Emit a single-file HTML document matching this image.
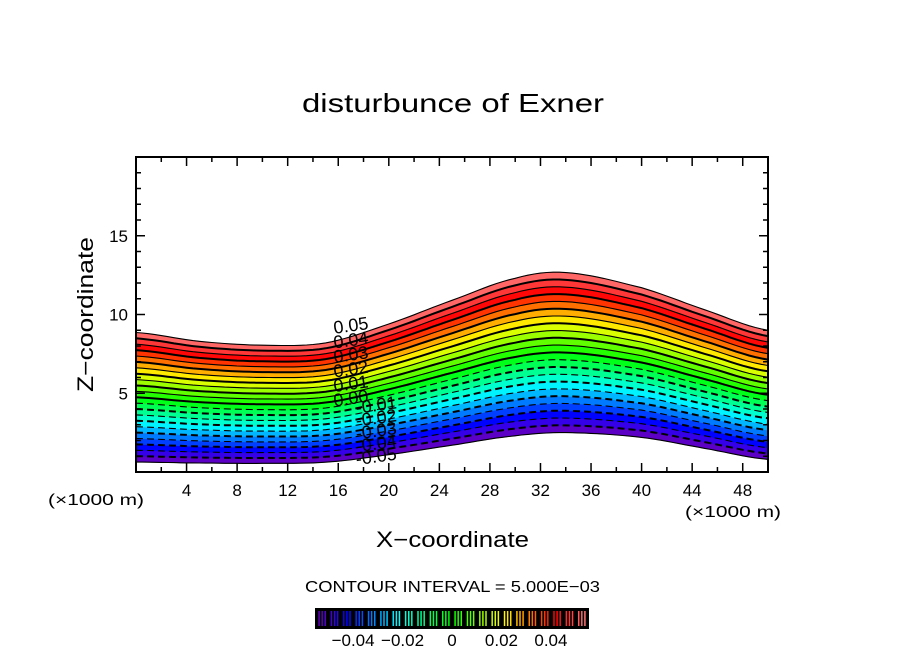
<!DOCTYPE html>
<html><head><meta charset="utf-8"><style>
body{margin:0;background:#fff}
svg text{font-family:"Liberation Sans",sans-serif;fill:#000}
</style></head><body>
<svg id="c" width="904" height="654" viewBox="0 0 904 654" xmlns="http://www.w3.org/2000/svg">
<text x="302" y="112" font-size="26" textLength="302" lengthAdjust="spacingAndGlyphs">disturbunce of Exner</text>
<g id="plot"></g>
<g id="axes"></g>
<text x="48" y="505" font-size="16" textLength="96" lengthAdjust="spacingAndGlyphs">(×1000 m)</text>
<text x="685" y="517" font-size="16" textLength="96" lengthAdjust="spacingAndGlyphs">(×1000 m)</text>
<text x="376" y="547" font-size="22" textLength="153" lengthAdjust="spacingAndGlyphs">X−coordinate</text>
<text transform="translate(93,392) rotate(-90)" font-size="22" textLength="155" lengthAdjust="spacingAndGlyphs">Z−coordinate</text>
<text x="305" y="592" font-size="16" textLength="295" lengthAdjust="spacingAndGlyphs">CONTOUR INTERVAL = 5.000E−03</text>
<g id="cbar"></g>
</svg>
<script>
const xKm=[0,5,10,15,20,25,30,34,40,45,50];
const topZ=[8.86,8.3,8.05,8.2,9.4,10.9,12.3,12.66,11.7,10.3,9.0];
const botZ=[0.63,0.57,0.55,0.62,1.1,1.7,2.3,2.5,2.2,1.5,0.8];
const levels=[];for(let i=-11;i<=11;i++)levels.push(i*0.005);
const xTicks=[4,8,12,16,20,24,28,32,36,40,44,48];
const yTicks=[5,10,15];
const cbTicks=[-0.04,-0.02,0,0.02,0.04];
const cbTickLabels=["−0.04","−0.02","0","0.02","0.04"];
const X0=136,X1=768,Y0=472,Y1=157,XMAX=50,YMAX=20,VMIN=-0.055,VMAX=0.055;
const sx=x=>X0+x/XMAX*(X1-X0), sy=z=>Y0-z/YMAX*(Y0-Y1);
const NS="http://www.w3.org/2000/svg";
function mk(t,a,p){const e=document.createElementNS(NS,t);for(const k in a)e.setAttribute(k,a[k]);p.appendChild(e);return e;}
function interp(arr,x){let i=0;while(i<xKm.length-2&&x>xKm[i+1])i++;
 const p0=arr[Math.max(i-1,0)],p1=arr[i],p2=arr[i+1],p3=arr[Math.min(i+2,arr.length-1)];
 const t=(x-xKm[i])/(xKm[i+1]-xKm[i]);
 return 0.5*((2*p1)+(-p0+p2)*t+(2*p0-5*p1+4*p2-p3)*t*t+(-p0+3*p1-3*p2+p3)*t*t*t);}
function curve(v){const f=(v-VMIN)/(VMAX-VMIN);const pts=[];
 for(let x=0;x<=50.001;x+=0.5){const b=interp(botZ,x),t=interp(topZ,x);pts.push([sx(x),sy(b+f*(t-b))]);}return pts;}
function col(f){if(f>0.88){const l=50+(f-0.88)/0.12*25;return `hsl(0,100%,${l}%)`;}
 const h=275*(1-f/0.88);const l=f<0.1?35+f*150:50;return `hsl(${h},100%,${l}%)`;}
const plot=document.getElementById('plot');
for(let i=0;i<levels.length-1;i++){
 const a=curve(levels[i]),b=curve(levels[i+1]).reverse();
 const d='M'+a.concat(b).map(p=>p[0].toFixed(1)+','+p[1].toFixed(1)).join('L')+'Z';
 const fm=((levels[i]+levels[i+1])/2-VMIN)/(VMAX-VMIN);
 const e=mk('path',{d:d,fill:col(fm),stroke:col(fm),'stroke-width':0.6},plot);
 
 
}
levels.forEach((v,i)=>{
 const pts=curve(v);const d='M'+pts.map(p=>p[0].toFixed(1)+','+p[1].toFixed(1)).join('L');
 const edge=(i===0||i===levels.length-1);
 const thick=Math.round(v*1000)%10===0;
 const a={d:d,fill:'none',stroke:'#000','stroke-width':thick?2:1.1};
 if(v<-1e-9&&!edge)a['stroke-dasharray']='7,4';
 const e=mk('path',a,plot);
 
 
 if(!edge&&Math.round(v*1000)%10===0){
  const lx=v>=-1e-9?17.0:19.0;const b=interp(botZ,lx),t=interp(topZ,lx);const f=(v-VMIN)/(VMAX-VMIN);
  const f0=(0-VMIN)/(VMAX-VMIN);
  const y0=sy(b+f0*(t-b));
  const k=v>=-1e-9?1.3:1.1;
  const yy=y0+(sy(b+f*(t-b))-y0)*k;
  const tx=mk('text',{x:sx(lx),y:yy+6,'font-size':18,'text-anchor':'middle',transform:`rotate(-8 ${sx(lx)} ${yy})`},plot);
  tx.textContent=(v<-1e-9?'-':'')+Math.abs(v).toFixed(2);
  
  
 }
});
const ax=document.getElementById('axes');
mk('rect',{x:X0,y:Y1,width:X1-X0,height:Y0-Y1,fill:'none',stroke:'#000','stroke-width':2},ax);
for(let x=2;x<50;x+=2){const L=x%4===0?9:5;
 mk('line',{x1:sx(x),x2:sx(x),y1:Y0,y2:Y0-L,stroke:'#000','stroke-width':1.5},ax);
 mk('line',{x1:sx(x),x2:sx(x),y1:Y1,y2:Y1+L,stroke:'#000','stroke-width':1.5},ax);}
for(let z=1;z<20;z++){const L=z%5===0?9:5;
 mk('line',{x1:X0,x2:X0+L,y1:sy(z),y2:sy(z),stroke:'#000','stroke-width':1.5},ax);
 mk('line',{x1:X1,x2:X1-L,y1:sy(z),y2:sy(z),stroke:'#000','stroke-width':1.5},ax);}
xTicks.forEach(x=>{const t=mk('text',{x:sx(x),y:496,'font-size':17,'text-anchor':'middle'},ax);t.textContent=x;
 });
yTicks.forEach(z=>{const t=mk('text',{x:128,y:sy(z)+6,'font-size':17,'text-anchor':'end'},ax);t.textContent=z;
 });
const cb=document.getElementById('cbar');const C0=316,C1=588,CY=609,CH=19;
const cx=v=>C0+(v-VMIN)/(VMAX-VMIN)*(C1-C0);
mk('rect',{x:C0,y:CY,width:C1-C0,height:CH,fill:'#000'},cb);
for(let i=0;i<levels.length-1;i++){const v0=levels[i],v1=levels[i+1];
 for(let k=1;k<=3;k++){const v=v0+(v1-v0)*k/4;const f=(v-VMIN)/(VMAX-VMIN);
  const l=mk('line',{x1:cx(v),x2:cx(v),y1:CY+2,y2:CY+CH-2,stroke:col(f),'stroke-width':1.5},cb);
  }}
mk('rect',{x:C0,y:CY,width:C1-C0,height:CH,fill:'none',stroke:'#000','stroke-width':2},cb);
cbTicks.forEach((v,i)=>{const t=mk('text',{x:cx(v),y:646,'font-size':17,'text-anchor':'middle'},cb);t.textContent=cbTickLabels[i];
 });
</script>
</body></html>
